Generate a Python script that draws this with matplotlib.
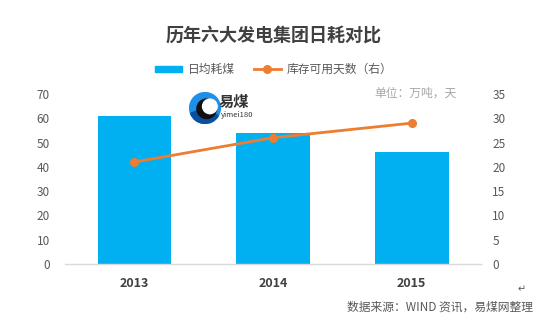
import matplotlib.pyplot as plt
from matplotlib.patches import Circle, Wedge
from matplotlib.lines import Line2D
from matplotlib.patches import Patch

plt.rcParams['font.family'] = ['Noto Sans CJK SC', 'DejaVu Sans']

years = ['2013', '2014', '2015']
daily_coal = [61, 54, 46]        # 日均耗煤 (万吨)
stock_days = [21, 26, 29]        # 库存可用天数 (天)

bar_color = '#00B0F0'
line_color = '#ED7D31'
text_gray = '#595959'

fig = plt.figure(figsize=(5.53, 3.24), dpi=100)
ax = fig.add_axes([0.1175, 0.185, 0.7525, 0.525])
ax2 = ax.twinx()

x = range(len(years))
ax.bar(x, daily_coal, width=0.53, color=bar_color, zorder=2)
ax2.plot(x, stock_days, color=line_color, lw=2, marker='o', ms=5.5, zorder=3)

ax.set_xlim(-0.5, 2.5)
ax.set_ylim(0, 70)
ax.set_yticks(range(0, 71, 10))
ax2.set_ylim(0, 35)
ax2.set_yticks(range(0, 36, 5))

ax.set_xticks(list(x))
ax.set_xticklabels(years, fontsize=9, fontweight='bold', color='#404040')

for a in (ax, ax2):
    for s in a.spines.values():
        s.set_visible(False)
    a.tick_params(axis='y', length=0, labelsize=8.5, labelcolor=text_gray)
ax.tick_params(axis='x', length=0, pad=9)
ax.tick_params(axis='y', pad=11)
ax2.tick_params(axis='y', pad=8)
ax.spines['bottom'].set_visible(True)
ax.spines['bottom'].set_color('#d9d9d9')
ax.spines['bottom'].set_linewidth(1)

fig.text(0.494, 0.892, '历年六大发电集团日耗对比', ha='center', va='center',
         fontsize=13, fontweight='bold', color='#404040')

handles = [Patch(color=bar_color),
           Line2D([0], [0], color=line_color, lw=2, marker='o', ms=5.5)]
fig.legend(handles, ['日均耗煤', '库存可用天数（右）'], loc='center',
           bbox_to_anchor=(0.495, 0.785), ncol=2, frameon=False, fontsize=8.5,
           labelcolor=text_gray, handlelength=2.3, handleheight=0.5,
           columnspacing=1.6, handletextpad=0.5)

fig.text(0.825, 0.712, '单位：万吨，天', ha='right', va='center',
         fontsize=8.5, color='#a6a6a6')

# logo
lx, ly = 205 / 553, 1 - 108 / 324
logo = fig.add_axes([lx - 0.03, ly - 0.05, 0.06, 0.1])
logo.set_xlim(-1, 1)
logo.set_ylim(-1, 1)
logo.set_aspect('equal')
logo.axis('off')
logo.add_patch(Circle((0, 0), 0.95, color='#1E90E8'))
logo.add_patch(Wedge((0, 0), 0.95, 200, 330, color='#0B4FA0'))
logo.add_patch(Circle((0.1, -0.05), 0.6, color='#111111'))
logo.add_patch(Circle((0.3, 0.1), 0.45, color='white'))
fig.text(219 / 553, 1 - 102 / 324, '易煤', ha='left', va='center',
         fontsize=11, fontweight='bold', color='#333333')
fig.text(221 / 553, 1 - 115 / 324, 'yimei180', ha='left', va='center',
         fontsize=5.5, color='#333333')

fig.text(0.628, 0.052, '数据来源：WIND 资讯，易煤网整理', ha='left', va='center',
         fontsize=8.5, color=text_gray)
fig.text(0.935, 0.108, '↵', ha='left', va='center', fontsize=7, color=text_gray)

fig.savefig('out.png', dpi=100, facecolor='white')
